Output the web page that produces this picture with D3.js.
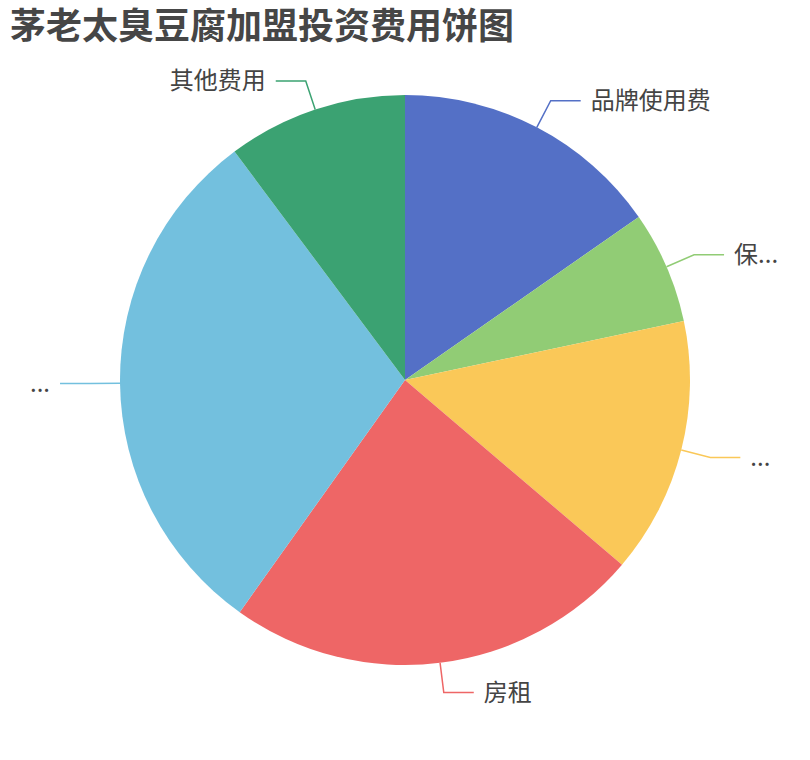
<!DOCTYPE html>
<html>
<head>
<meta charset="utf-8">
<script src="https://cdn.jsdelivr.net/npm/d3@7"></script>
<style>
  body { margin: 0; background: #fff; }
  .mainContainer { width: 810px; height: 760px; }
  text { font-family: "Noto Sans CJK SC", "Noto Sans", sans-serif; }
</style>
</head>
<body>
<div class="mainContainer"></div>
<script>
// 投资费用 (万元)
var names = ['品牌使用费', '保证金', '装修费用', '房租', '设备及原料费', '其他费用'];
var values = [3.0, 1.25, 2.85, 4.63, 5.87, 2.0];
var colors = ['#5470c6', '#91cc75', '#fac858', '#ee6666', '#73c0de', '#3ba272'];
var title = '茅老太臭豆腐加盟投资费用饼图';

var width = 810, height = 760;
var cx = 405, cy = 380, radius = 285;
var len1 = 30, len2 = 30, gap = 10, edgeMargin = 25;

var svg = d3.select('.mainContainer').append('svg')
	.attr('width', width).attr('height', height);

svg.append('text')
	.attr('x', 10).attr('y', 39)
	.style('font-size', '36px').style('font-weight', 'bold')
	.style('fill', '#464646')
	.text(title);

var data = names.map(function(n, i) { return { name: n, value: values[i], color: colors[i] }; });

var pie = d3.pie().sort(null).value(function(d) { return d.value; });
var arc = d3.arc().innerRadius(0).outerRadius(radius);
var arcs = pie(data);

var g = svg.append('g').attr('transform', 'translate(' + cx + ',' + cy + ')');

g.selectAll('path.slice').data(arcs).enter().append('path')
	.attr('class', 'slice')
	.attr('d', arc)
	.style('fill', function(d) { return d.data.color; });

// label lines + labels
arcs.forEach(function(d) {
	var mid = (d.startAngle + d.endAngle) / 2;
	var sx = Math.sin(mid), sy = -Math.cos(mid);
	var p0 = [sx * radius, sy * radius];
	var p1 = [sx * (radius + len1), sy * (radius + len1)];
	var right = sx >= 0;
	var p2 = [p1[0] + (right ? len2 : -len2), p1[1]];

	g.append('polyline')
		.attr('points', [p0, p1, p2].map(function(p) { return p.join(','); }).join(' '))
		.style('fill', 'none')
		.style('stroke', d.data.color)
		.style('stroke-width', 1.5);

	var tx = p2[0] + (right ? gap : -gap);
	var label = g.append('text')
		.attr('x', tx).attr('y', p2[1])
		.attr('dy', '0.35em')
		.attr('text-anchor', right ? 'start' : 'end')
		.style('font-size', '24px')
		.style('fill', '#444')
		.text(d.data.name);

	// truncate the label when it runs out of room
	var avail = right ? (width - (cx + tx) - edgeMargin) : (cx + tx - edgeMargin);
	var full = d.data.name;
	if (label.node().getComputedTextLength() > avail) {
		var n = full.length;
		do {
			n--;
			label.text(full.slice(0, n) + '...');
		} while (n > 0 && label.node().getComputedTextLength() > avail);
	}
});
</script>
</body>
</html>
